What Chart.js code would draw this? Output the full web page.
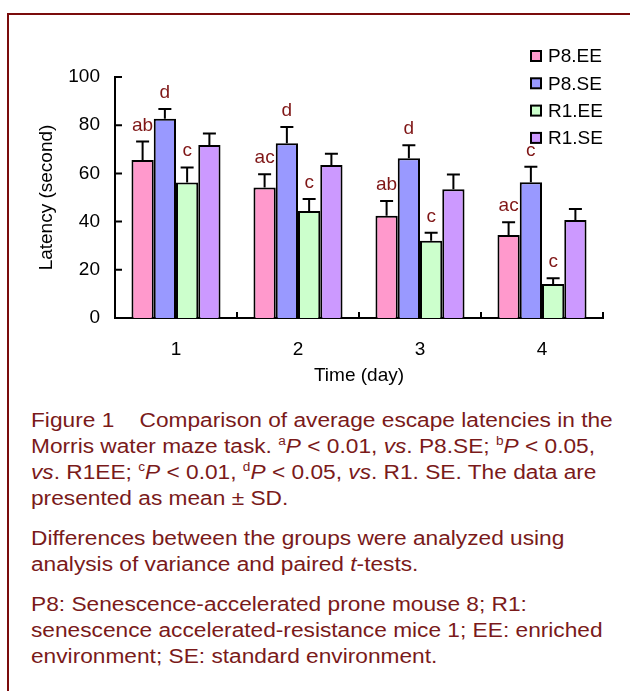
<!DOCTYPE html>
<html>
<head>
<meta charset="utf-8">
<script src="https://cdn.jsdelivr.net/npm/chart.js@4"></script>
<style>
  body { margin: 0; background: #fff; width: 630px; height: 691px; overflow: hidden; position: relative; }
  #frame { position: absolute; left: 7px; top: 13px; width: 700px; height: 800px; border-left: 2px solid #7a0c0c; border-top: 2px solid #7a0c0c; }
  #wrap { position: absolute; left: 0; top: 0; width: 630px; height: 400px; }
  #caption { position: absolute; left: 31px; top: 407px; font-family: "Liberation Sans", Arial, sans-serif; font-size: 20px; line-height: 26px; color: #7a1a1a; white-space: nowrap; transform: scaleX(1.135); transform-origin: 0 0; }
  #caption p { margin: 0 0 14px 0; }
  #caption sup { font-size: 12px; vertical-align: 8px; line-height: 0; }
</style>
</head>
<body>
<div id="frame"></div>
<div id="wrap"><canvas id="chart" width="630" height="400"></canvas></div>
<div id="caption">
  <p>Figure 1&nbsp;&nbsp;&nbsp;&nbsp;Comparison of average escape latencies in the<br>Morris water maze task. <sup>a</sup><i>P</i> &lt; 0.01, <i>vs</i>. P8.SE; <sup>b</sup><i>P</i> &lt; 0.05,<br><i>vs</i>. R1EE; <sup>c</sup><i>P</i> &lt; 0.01, <sup>d</sup><i>P</i> &lt; 0.05, <i>vs</i>. R1. SE. The data are<br>presented as mean ± SD.</p>
  <p>Differences between the groups were analyzed using<br>analysis of variance and paired <i>t</i>-tests.</p>
  <p>P8: Senescence-accelerated prone mouse 8; R1:<br>senescence accelerated-resistance mice 1; EE: enriched<br>environment; SE: standard environment.</p>
</div>
<script>
const days = ['1', '2', '3', '4'];
const groupNames = ['P8.EE', 'P8.SE', 'R1.EE', 'R1.SE'];
const groupColors = ['#ff99cc', '#9999ff', '#ccffcc', '#cc99ff'];

const p8ee = [65.6, 54.2, 42.4, 34.4];
const p8se = [82.7, 72.5, 66.3, 56.3];
const r1ee = [56.2, 44.4, 32.1, 14.1];
const r1se = [71.8, 63.5, 53.4, 40.7];

const p8eeSd = [7.6, 5.4, 6.1, 5.3];
const p8seSd = [4.0, 6.8, 5.4, 6.5];
const r1eeSd = [6.3, 5.0, 3.3, 2.4];
const r1seSd = [4.8, 4.7, 6.1, 4.5];

const p8eeSig = ['ab', 'ac', 'ab', 'ac'];
const p8seSig = ['d', 'd', 'd', 'c'];
const r1eeSig = ['c', 'c', 'c', 'c'];
const r1seSig = ['', '', '', ''];

const yTicks = [0, 20, 40, 60, 80, 100];

const values = [p8ee, p8se, r1ee, r1se];
const sds = [p8eeSd, p8seSd, r1eeSd, r1seSd];
const sigs = [p8eeSig, p8seSig, r1eeSig, r1seSig];

const font = { family: 'Liberation Sans, Arial, sans-serif', size: 19 };

// error bars, significance letters, inward ticks and the legend
const extras = {
    id: 'extras',
    afterDatasetsDraw(chart) {
        const ctx = chart.ctx;
        const y = chart.scales.y;
        ctx.save();
        ctx.strokeStyle = '#000';
        ctx.lineWidth = 2;
        chart.data.datasets.forEach((ds, i) => {
            chart.getDatasetMeta(i).data.forEach((bar, j) => {
                const top = y.getPixelForValue(ds.data[j] + sds[i][j]);
                ctx.beginPath();
                ctx.moveTo(bar.x, bar.y);
                ctx.lineTo(bar.x, top);
                ctx.moveTo(bar.x - 6.5, top);
                ctx.lineTo(bar.x + 6.5, top);
                ctx.stroke();
                if (sigs[i][j]) {
                    ctx.fillStyle = '#7f1616';
                    ctx.font = font.size + 'px ' + font.family;
                    ctx.textAlign = 'center';
                    ctx.textBaseline = 'alphabetic';
                    ctx.fillText(sigs[i][j], bar.x, top - 11);
                }
            });
        });
        ctx.restore();
    },
    afterDraw(chart) {
        const ctx = chart.ctx;
        const x = chart.scales.x;
        const y = chart.scales.y;
        const area = chart.chartArea;
        ctx.save();
        ctx.strokeStyle = '#000';
        ctx.lineWidth = 2;
        ctx.beginPath();
        yTicks.forEach(v => {
            const py = y.getPixelForValue(v);
            ctx.moveTo(area.left, py);
            ctx.lineTo(area.left + 7, py);
        });
        for (let i = 0; i < days.length; i++) {
            const px = i < days.length - 1
                ? (x.getPixelForValue(i) + x.getPixelForValue(i + 1)) / 2
                : area.right;
            ctx.moveTo(px, area.bottom);
            ctx.lineTo(px, area.bottom - 6);
        }
        ctx.stroke();

        // legend
        ctx.font = font.size + 'px ' + font.family;
        ctx.textAlign = 'left';
        ctx.textBaseline = 'middle';
        chart.data.datasets.forEach((ds, i) => {
            const cy = 56 + i * 27.3;
            ctx.fillStyle = ds.backgroundColor;
            ctx.fillRect(531, cy - 5, 10, 10);
            ctx.strokeRect(531, cy - 5, 10, 10);
            ctx.fillStyle = '#000';
            ctx.fillText(ds.label, 548, cy + 1);
        });
        ctx.restore();
    }
};

new Chart(document.getElementById('chart').getContext('2d'), {
    type: 'bar',
    data: {
        labels: days,
        datasets: groupNames.map((name, i) => ({
            label: name,
            data: values[i],
            backgroundColor: groupColors[i],
            borderColor: '#000',
            borderWidth: 2,
            barPercentage: 1,
            categoryPercentage: 0.73
        }))
    },
    options: {
        responsive: false,
        animation: false,
        layout: { padding: { top: 77, right: 27, bottom: 0, left: 0 } },
        plugins: {
            legend: { display: false },
            tooltip: { enabled: false }
        },
        scales: {
            x: {
                grid: { display: false, drawTicks: false },
                border: { display: true, color: '#000', width: 2 },
                ticks: { font: font, color: '#000', padding: 20 },
                title: { display: true, text: 'Time (day)', font: font, color: '#000', padding: { top: 4, bottom: 13 } },
                afterFit(scale) { scale.height = 82; }
            },
            y: {
                min: 0,
                max: 100,
                grid: { display: false, drawTicks: false },
                border: { display: true, color: '#000', width: 2 },
                ticks: { stepSize: 20, font: font, color: '#000', padding: 15 },
                title: { display: true, text: 'Latency (second)', font: font, color: '#000', padding: { top: 35, bottom: 0 } },
                afterFit(scale) { scale.width = 115; }
            }
        }
    },
    plugins: [extras]
});
</script>
</body>
</html>
